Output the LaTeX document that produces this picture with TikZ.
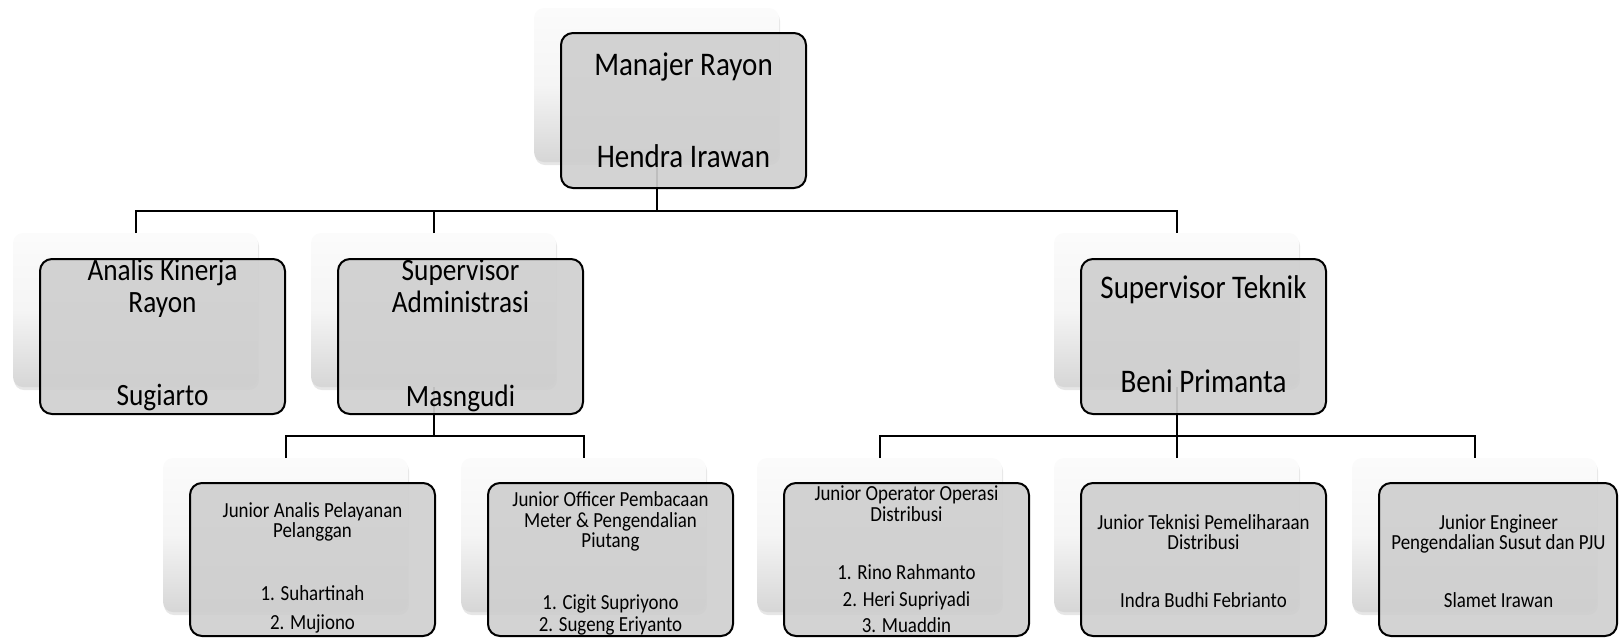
\documentclass[tikz,border=0pt]{standalone}
\usepackage{fontspec}
\setmainfont[FakeStretch=0.88]{Carlito}
\usetikzlibrary{shadows}
\begin{document}
\begin{tikzpicture}[x=1pt,y=-1pt,
  shadowbox/.style={rounded corners=10pt, minimum width=245pt, minimum height=154pt,
    inner sep=0pt, outer sep=0pt, anchor=north west, draw=none,
    top color=gray!3, bottom color=gray!32, middle color=gray!8,
    drop shadow={shadow xshift=1pt, shadow yshift=-3pt, opacity=0.2}},
  mainbox/.style={rounded corners=12pt, minimum width=245pt, minimum height=155pt,
    inner sep=0pt, outer sep=0pt, anchor=north west, draw=black, line width=2pt,
    fill=gray!38, fill opacity=0.92},
  conn/.style={draw=black, line width=2pt},
  bigtext/.style={anchor=base, inner sep=0pt, font=\fontsize{33}{33}\selectfont},
  midtext/.style={anchor=base, inner sep=0pt, font=\fontsize{31}{31}\selectfont},
  smalltext/.style={anchor=base, inner sep=0pt, font=\fontsize{21.5}{21.5}\selectfont}
]
\useasboundingbox (0,0) rectangle (1619,638);

% shadow (back) boxes
\node[shadowbox] (s1)  at (534,8) {};
\node[shadowbox] (s2a) at (13,233) {};
\node[shadowbox] (s2b) at (311,233) {};
\node[shadowbox] (s2c) at (1054,233) {};
\node[shadowbox] (s3a) at (163,458) {};
\node[shadowbox] (s3b) at (461,458) {};
\node[shadowbox] (s3c) at (757,458) {};
\node[shadowbox] (s3d) at (1054,458) {};
\node[shadowbox] (s3e) at (1352,458) {};

% connectors
\coordinate (bus1) at (656.5,211);
\draw[conn] (s1.south) -- (bus1);
\draw[conn] (s2a.north) |- (s2c.north |- bus1) -- (s2c.north);
\draw[conn] (s2b.north) -- (s2b.north |- bus1);

\coordinate (bus2) at (433.5,436);
\draw[conn] (s2b.south) -- (bus2);
\draw[conn] (s3a.north) |- (s3b.north |- bus2) -- (s3b.north);

\coordinate (bus3) at (1176.5,436);
\draw[conn] (s2c.south) -- (bus3);
\draw[conn] (s3c.north) |- (s3e.north |- bus3) -- (s3e.north);
\draw[conn] (s3d.north) -- (s3d.north |- bus3);

% main boxes
\node[mainbox] (m1)  at (561,33) {};
\node[mainbox] (m2a) at (40,259) {};
\node[mainbox] (m2b) at (338,259) {};
\node[mainbox] (m2c) at (1081,259) {};
\node[mainbox, minimum height=153pt] (m3a) at (190,483) {};
\node[mainbox, minimum height=153pt] (m3b) at (488,483) {};
\node[mainbox, minimum height=153pt] (m3c) at (784,483) {};
\node[mainbox, minimum height=153pt] (m3d) at (1081,483) {};
\node[mainbox, minimum height=153pt, minimum width=238pt] (m3e) at (1379,483) {};

% texts level 1
\node[bigtext] (t1a) at (683.5,75) {Manajer Rayon};
\node[bigtext] (t1b) at (683.5,167) {Hendra Irawan};

% texts level 2
\node[midtext] (t2a1) at (162.5,280) {Analis Kinerja};
\node[midtext] (t2a2) at (162.5,312) {Rayon};
\node[midtext] (t2a3) at (162.5,405) {Sugiarto};

\node[midtext] (t2b1) at (460.5,280) {Supervisor};
\node[midtext] (t2b2) at (460.5,312) {Administrasi};
\node[midtext] (t2b3) at (460.5,406) {Masngudi};

\node[bigtext] (t2c1) at (1203.5,298) {Supervisor Teknik};
\node[bigtext] (t2c2) at (1203.5,392) {Beni Primanta};

% texts level 3
\node[smalltext] (t3a1) at (312.5,517) {Junior Analis Pelayanan};
\node[smalltext] (t3a2) at (312.5,537) {Pelanggan};
\node[smalltext] (t3a3) at (312.5,600) {1. Suhartinah};
\node[smalltext] (t3a4) at (312.5,629) {2. Mujiono};

\node[smalltext] (t3b1) at (610.5,506) {Junior Officer Pembacaan};
\node[smalltext] (t3b2) at (610.5,527) {Meter \& Pengendalian};
\node[smalltext] (t3b3) at (610.5,547) {Piutang};
\node[smalltext] (t3b4) at (610.5,609) {1. Cigit Supriyono};
\node[smalltext] (t3b5) at (610.5,631) {2. Sugeng Eriyanto};

\node[smalltext] (t3c1) at (906.5,500) {Junior Operator Operasi};
\node[smalltext] (t3c2) at (906.5,521) {Distribusi};
\node[smalltext] (t3c3) at (906.5,579) {1. Rino Rahmanto};
\node[smalltext] (t3c4) at (906.5,606) {2. Heri Supriyadi};
\node[smalltext] (t3c5) at (906.5,632) {3. Muaddin};

\node[smalltext] (t3d1) at (1203.5,529) {Junior Teknisi Pemeliharaan};
\node[smalltext] (t3d2) at (1203.5,549) {Distribusi};
\node[smalltext] (t3d3) at (1203.5,607) {Indra Budhi Febrianto};

\node[smalltext] (t3e1) at (1498.5,529) {Junior Engineer};
\node[smalltext] (t3e2) at (1498.5,549) {Pengendalian Susut dan PJU};
\node[smalltext] (t3e3) at (1498.5,607) {Slamet Irawan};
\end{tikzpicture}
\end{document}
